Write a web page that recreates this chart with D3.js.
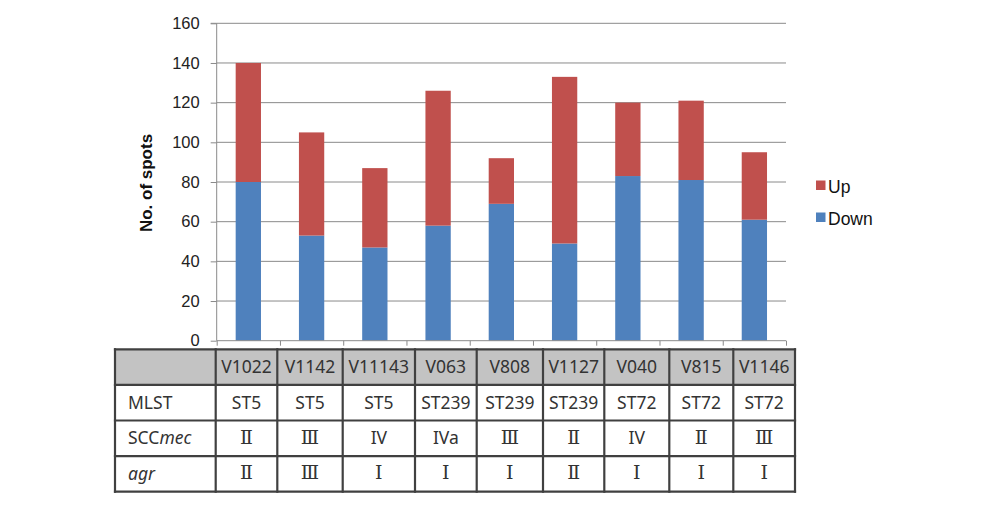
<!DOCTYPE html>
<html>
<head>
<meta charset="utf-8">
<script src="https://cdn.jsdelivr.net/npm/d3@7"></script>
<style>
  body { margin: 0; background: #fff; }
  svg { display: block; }
</style>
</head>
<body>
<svg id="vis"></svg>
<script>
// chart values
const strains = ["V1022", "V1142", "V11143", "V063", "V808", "V1127", "V040", "V815", "V1146"]
const downValues = [80, 53, 47, 58, 69, 49, 83, 81, 61]
const upValues = [60, 52, 40, 68, 23, 84, 37, 40, 34]
const mlst = ["ST5", "ST5", "ST5", "ST239", "ST239", "ST239", "ST72", "ST72", "ST72"]
const sccmec = ["Ⅱ", "Ⅲ", "IV", "IVa", "Ⅲ", "Ⅱ", "IV", "Ⅱ", "Ⅲ"]
const agr = ["Ⅱ", "Ⅲ", "Ⅰ", "Ⅰ", "Ⅰ", "Ⅱ", "Ⅰ", "Ⅰ", "Ⅰ"]
const yTicks = [0, 20, 40, 60, 80, 100, 120, 140, 160]
const seriesNames = ["Up", "Down"]

const colors = {Up: "#c0504d", Down: "#4f81bd"}

const width = 998, height = 513
const plot = {left: 216.7, right: 786, top: 23.3, bottom: 340.7}

const svg = d3.select("#vis")
  .attr("width", width)
  .attr("height", height)

svg.append("rect").attr("width", width).attr("height", height).attr("fill", "#fff")

// scales
const xScale = d3.scaleBand()
  .domain(strains)
  .range([plot.left, plot.right])
  .paddingInner(0.6)
  .paddingOuter(0.3)

const yScale = d3.scaleLinear()
  .domain([0, 160])
  .range([plot.bottom, plot.top])

// gridlines
svg.append("g")
  .selectAll("line")
  .data(yTicks.filter(d => d > 0))
  .join("line")
    .attr("x1", plot.left)
    .attr("x2", plot.right)
    .attr("y1", d => yScale(d))
    .attr("y2", d => yScale(d))
    .attr("stroke", "#8a8a8a")
    .attr("stroke-width", 1)

// stacked bars
const rows = strains.map((s, i) => ({strain: s, Down: downValues[i], Up: upValues[i]}))
const stack = d3.stack().keys(["Down", "Up"])(rows)

svg.append("g")
  .selectAll("g")
  .data(stack)
  .join("g")
    .attr("fill", d => colors[d.key])
  .selectAll("rect")
  .data(d => d)
  .join("rect")
    .attr("x", d => xScale(d.data.strain))
    .attr("width", xScale.bandwidth())
    .attr("y", d => yScale(d[1]))
    .attr("height", d => yScale(d[0]) - yScale(d[1]))

// y axis
const yAxis = svg.append("g")
  .attr("transform", `translate(${plot.left},0)`)
  .call(d3.axisLeft(yScale).tickValues(yTicks).tickSize(6).tickPadding(11))
yAxis.selectAll("path, line").attr("stroke", "#8a8a8a")
yAxis.select(".domain").attr("d", `M-6,${plot.top}H0V${plot.bottom}`)
yAxis.selectAll("text")
  .attr("font-family", "Liberation Sans, Arial, sans-serif")
  .attr("font-size", 16.5)
  .attr("fill", "#222")

// x axis with ticks at the category boundaries
const edgeScale = d3.scaleLinear().domain([0, strains.length]).range([plot.left, plot.right])
const xAxis = svg.append("g")
  .attr("transform", `translate(0,${plot.bottom})`)
  .call(d3.axisBottom(edgeScale).tickValues(d3.range(strains.length + 1)).tickSize(5).tickFormat(""))
xAxis.selectAll("path, line").attr("stroke", "#8a8a8a")
xAxis.select(".domain").attr("d", `M${plot.left},0H${plot.right}`)

// y title
svg.append("text")
  .attr("transform", "translate(152,183) rotate(-90)")
  .attr("text-anchor", "middle")
  .attr("font-family", "Liberation Sans, Arial, sans-serif")
  .attr("font-weight", "bold")
  .attr("font-size", 17)
  .attr("fill", "#111")
  .text("No. of spots")

// legend
const legend = svg.append("g")
  .selectAll("g")
  .data(seriesNames)
  .join("g")
    .attr("transform", (d, i) => `translate(816,${193 + i * 32})`)
legend.append("rect")
  .attr("y", -12.5)
  .attr("width", 9.5)
  .attr("height", 9.5)
  .attr("fill", d => colors[d])
legend.append("text")
  .attr("x", 12)
  .attr("font-family", "Liberation Sans, Arial, sans-serif")
  .attr("font-size", 17.5)
  .attr("fill", "#111")
  .text(d => d)

// table under the chart
const table = {left: 115, top: 349.3, rowH: 35.6, labelW: 100.7}
const colWidths = [61.6, 65.4, 72.3, 61.7, 66.3, 61.3, 65, 64, 61.7]
const colEdges = [table.left + table.labelW]
colWidths.forEach(w => colEdges.push(colEdges[colEdges.length - 1] + w))
const tableRight = colEdges[colEdges.length - 1]
const tableRows = [
  {label: null, values: strains},
  {label: [{t: "MLST"}], values: mlst},
  {label: [{t: "SCC"}, {t: "mec", italic: true}], values: sccmec},
  {label: [{t: "agr", italic: true}], values: agr}
]
const rowY = i => table.top + i * table.rowH
const tableFont = "'Noto Sans', 'Noto Sans CJK KR', sans-serif"
const isRoman = d => /[ⅠⅡⅢ]/.test(d)

const tg = svg.append("g")
tg.append("rect")
  .attr("x", table.left)
  .attr("y", rowY(0))
  .attr("width", tableRight - table.left)
  .attr("height", table.rowH)
  .attr("fill", "#c3c3c3")

tableRows.forEach((row, ri) => {
  const baseY = rowY(ri) + table.rowH / 2 + 6
  if (row.label) {
    const lt = tg.append("text")
      .attr("x", table.left + 13)
      .attr("y", baseY)
      .attr("font-family", tableFont)
      .attr("font-size", 17.5)
      .attr("fill", "#333")
    row.label.forEach(p => {
      lt.append("tspan")
        .attr("font-style", p.italic ? "italic" : "normal")
        .text(p.t)
    })
  }
  tg.append("g")
    .selectAll("text")
    .data(row.values)
    .join("text")
      .attr("x", (d, i) => (colEdges[i] + colEdges[i + 1]) / 2)
      .attr("y", d => isRoman(d) ? baseY - 0.5 : baseY)
      .attr("text-anchor", "middle")
      .attr("font-family", d => isRoman(d) ? "'DejaVu Serif', serif" : tableFont)
      .attr("font-size", d => isRoman(d) ? 19 : 17.5)
      .attr("fill", "#333")
      .text(d => d)
})

// grid lines of the table
const tableBottom = rowY(tableRows.length)
tg.append("g")
  .selectAll("line")
  .data(d3.range(tableRows.length + 1))
  .join("line")
    .attr("x1", table.left)
    .attr("x2", tableRight)
    .attr("y1", d => rowY(d))
    .attr("y2", d => rowY(d))
tg.append("g")
  .selectAll("line")
  .data([table.left].concat(colEdges))
  .join("line")
    .attr("x1", d => d)
    .attr("x2", d => d)
    .attr("y1", rowY(0))
    .attr("y2", tableBottom)
tg.selectAll("line")
  .attr("stroke", "#404040")
  .attr("stroke-width", 2.2)
  .attr("stroke-linecap", "square")
</script>
</body>
</html>
